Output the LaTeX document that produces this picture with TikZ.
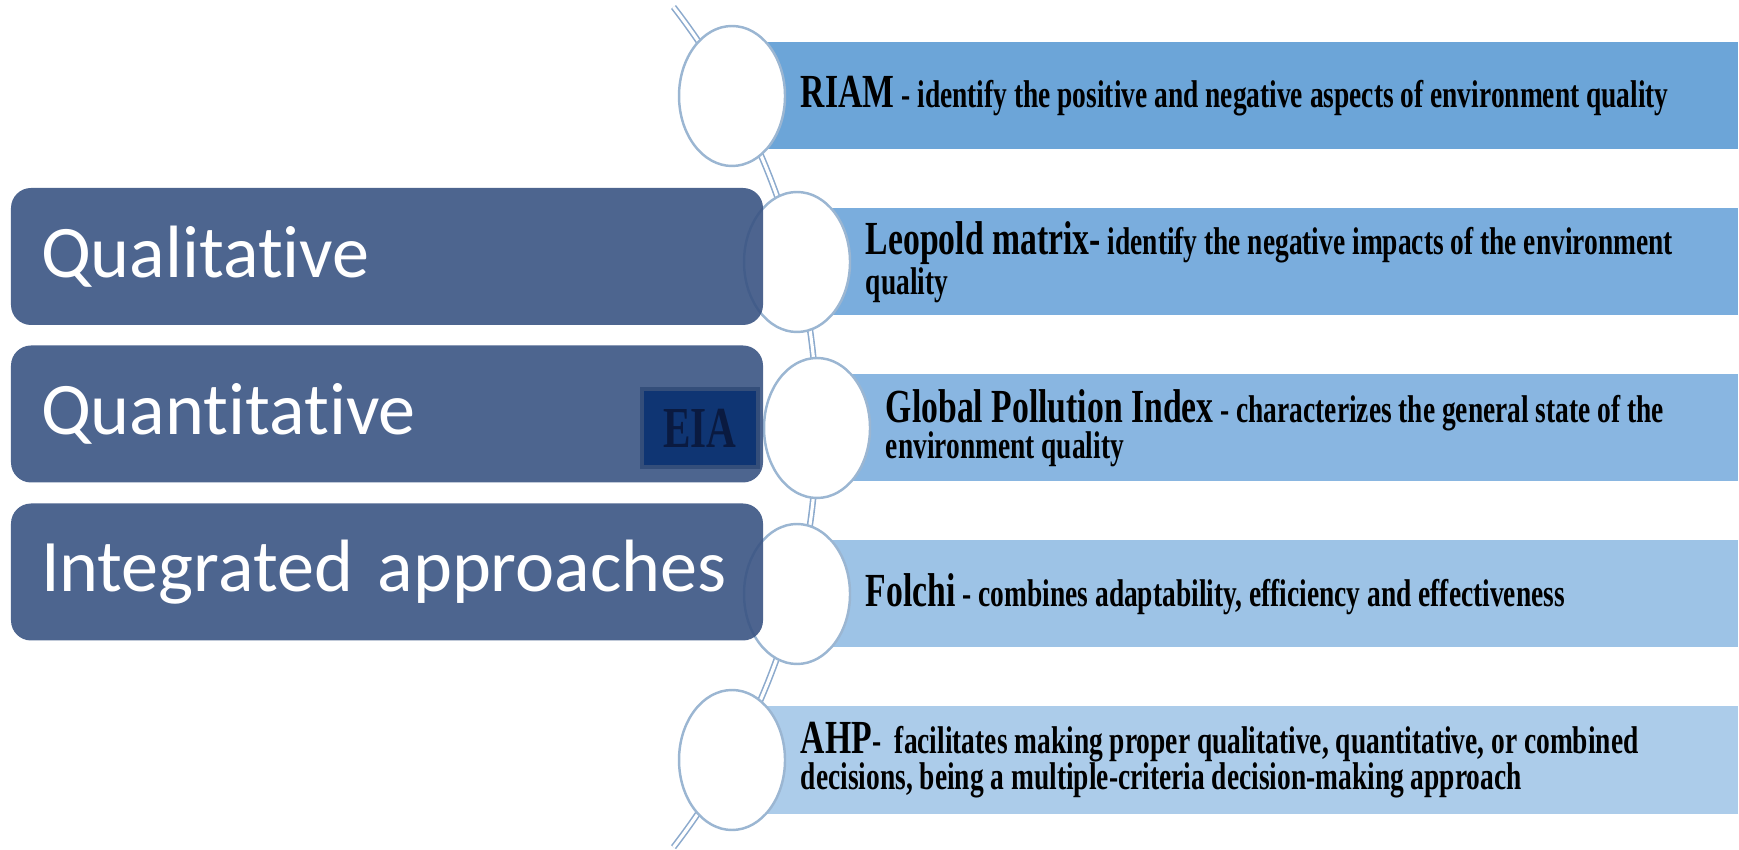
\documentclass[tikz,border=0pt]{standalone}
\usepackage{fontspec}
\newfontfamily\itemfont[FakeStretch=0.71]{Liberation Serif}
\newfontfamily\groupfont[Ligatures=CommonOff]{Carlito}
\usepackage{xcolor}
\usepackage{tikz}
\usetikzlibrary{shapes.geometric, positioning}

\definecolor{groupblue}{RGB}{58,84,131}
\definecolor{eiafill}{RGB}{15,53,115}
\definecolor{eiaborder}{RGB}{52,78,122}
\definecolor{eiatext}{RGB}{10,26,64}
\definecolor{barA}{RGB}{108,165,216}
\definecolor{barB}{RGB}{122,173,221}
\definecolor{barC}{RGB}{137,182,225}
\definecolor{barD}{RGB}{157,195,230}
\definecolor{barE}{RGB}{172,204,234}
\definecolor{ring}{RGB}{155,182,210}
\definecolor{spinecol}{RGB}{140,170,205}

\begin{document}
\begin{tikzpicture}[
    groupbox/.style={rectangle, fill=groupblue, fill opacity=0.9, text opacity=1, rounded corners=5.7pt, minimum height=1.37cm, text width=6.92cm, inner xsep=0.3cm, align=left, font=\groupfont\fontsize{21.1}{24}\selectfont, text=white},
    eiabox/.style={rectangle, fill=eiafill, draw=eiaborder, line width=1pt, minimum width=1.16cm, minimum height=0.78cm, inner sep=0pt, font=\itemfont\bfseries\fontsize{16.5}{16.5}\selectfont, text=eiatext},
    barbox/.style={rectangle, inner sep=0pt, minimum height=1.07cm, anchor=west},
    dot/.style={ellipse, draw=ring, line width=0.7pt, fill=white, minimum width=1.06cm, minimum height=1.40cm, inner sep=0pt},
    desc/.style={align=left, inner sep=0.08cm, font=\itemfont\bfseries\fontsize{11}{10.2}\selectfont},
    spine/.style={draw=spinecol, line width=0.45pt, double=white, double distance=0.9pt}
]
\useasboundingbox (0,0) rectangle (17.39,8.49);

% Curved spine behind the circles
\coordinate (spinetop) at (6.735, 8.42);
\draw[spine] (spinetop) arc[start angle=37.7, end angle=-37.7, radius=6.87cm];

% Method bars, lighter towards the bottom
\node[barbox, fill=barA, minimum width=10.05cm] (bar1) at (7.32, 7.53) {};
\node[barbox, fill=barB, minimum width=9.40cm] (bar2) at (7.97, 5.87) {};
\node[barbox, fill=barC, minimum width=9.20cm] (bar3) at (8.17, 4.21) {};
\node[barbox, fill=barD, minimum width=9.40cm] (bar4) at (7.97, 2.55) {};
\node[barbox, fill=barE, minimum width=10.05cm] (bar5) at (7.32, 0.89) {};

% Circles sitting on the spine
\node[dot] (c1) at (7.32, 7.53) {};
\node[dot] (c2) at (7.97, 5.87) {};
\node[dot] (c3) at (8.17, 4.21) {};
\node[dot] (c4) at (7.97, 2.55) {};
\node[dot] (c5) at (7.32, 0.89) {};

% Method descriptions
\node[desc, right=0.06cm of c1] (riam) {{\fontsize{13.5}{13.5}\selectfont RIAM} - identify the positive and negative aspects of environment quality};
\node[desc, right=0.06cm of c2] (leopold) {{\fontsize{13.5}{13.5}\selectfont Leopold matrix-} identify the negative impacts of the environment\\quality};
\node[desc, right=0.06cm of c3] (gpi) {{\fontsize{13.5}{13.5}\selectfont Global Pollution Index} - characterizes the general state of the\\environment quality};
\node[desc, right=0.06cm of c4] (folchi) {{\fontsize{13.5}{13.5}\selectfont Folchi} - combines adaptability, efficiency and effectiveness};
\node[desc, right=0.06cm of c5] (ahp) {{\fontsize{13.5}{13.5}\selectfont AHP}-\ \ facilitates making proper qualitative, quantitative, or combined\\decisions, being a multiple-criteria decision-making approach};

% Left column: approach groups and EIA tag
\node[groupbox] (qual) at (3.87, 5.925) {Qualitative};
\node[groupbox] (quant) at (3.87, 4.35) {Quantitative};
\node[groupbox] (integ) at (3.87, 2.77) {Integrated approaches};

\node[eiabox] (eia) at (7.00, 4.21) {EIA};

\end{tikzpicture}
\end{document}
